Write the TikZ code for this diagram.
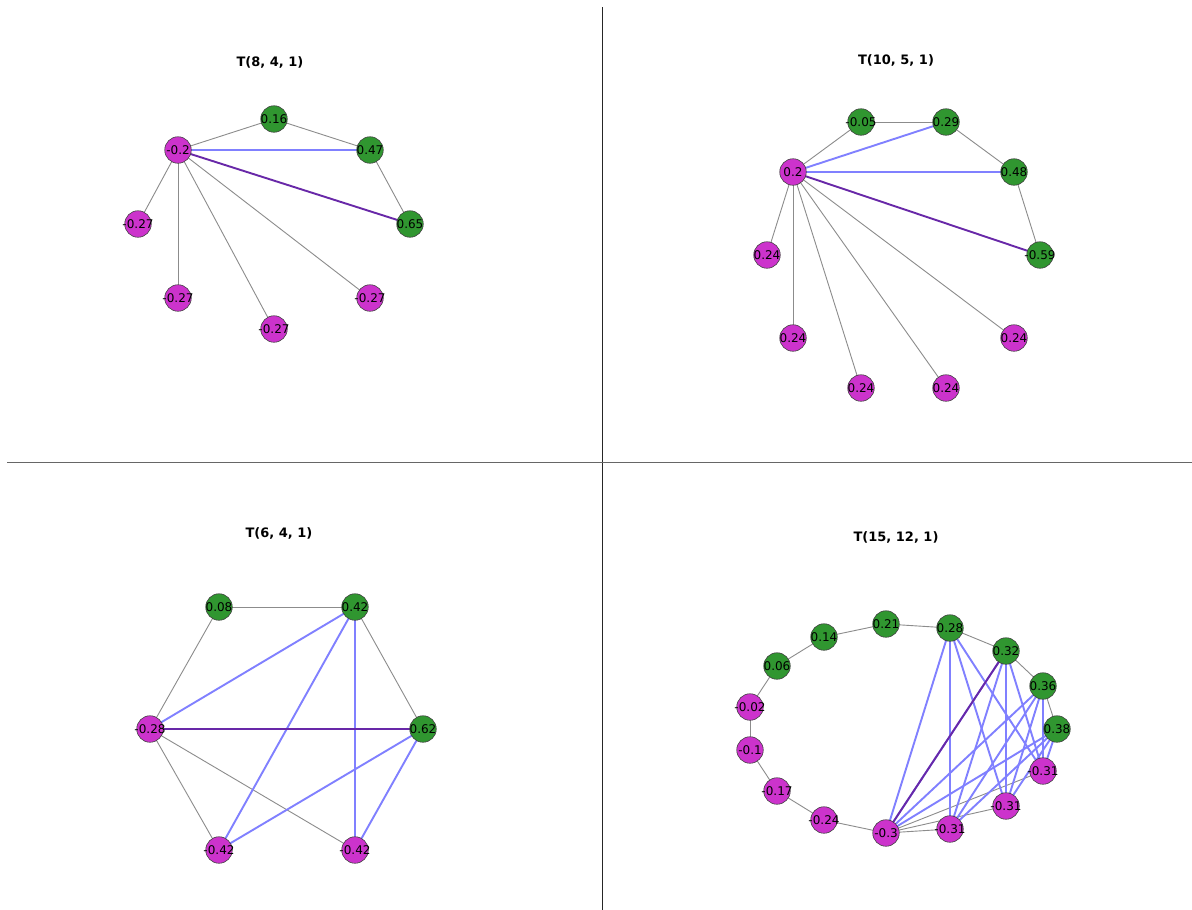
\documentclass[tikz,border=0pt]{standalone}
\usepackage{fontspec}
\setmainfont{DejaVu Sans}
\pgfdeclarelayer{bg}
\pgfdeclarelayer{back}
\pgfsetlayers{back,bg,main}
\definecolor{ngreen}{RGB}{48,150,48}
\definecolor{npink}{RGB}{204,51,204}
\definecolor{egray}{RGB}{140,140,140}
\definecolor{eblue}{RGB}{128,128,255}
\definecolor{epurp}{RGB}{104,40,168}
\tikzset{
  gnode/.style={circle,minimum size=26.5pt,inner sep=0pt,fill=ngreen,draw=black!75,line width=0.6pt,font=\fontsize{12}{12}\selectfont},
  pnode/.style={gnode,fill=npink},
  ge/.style={draw=egray,line width=0.9pt},
  be/.style={draw=eblue,line width=1.9pt},
  pe/.style={draw=epurp,line width=1.9pt},
  ttl/.style={font=\fontsize{13}{13}\selectfont\bfseries}
}
\newcommand\gnd[3]{\node[gnode] (#1) at (#2) {\makebox[0pt]{#3}};}
\newcommand\pnd[3]{\node[pnode] (#1) at (#2) {\makebox[0pt]{#3}};}
\begin{document}
\begin{tikzpicture}[x=1pt,y=-1pt]
\useasboundingbox (0,0) rectangle (1192,910);
\begin{pgfonlayer}{back}
\fill[white] (0,0) rectangle (1192,910);
\end{pgfonlayer}
\coordinate (vt) at (602,7);
\coordinate (vb) at (602,910);
\coordinate (hl) at (7,462);
\coordinate (hr) at (1192,462);
\draw[black!85,line width=0.8pt] (vt) -- (vb);
\draw[black!60,line width=0.8pt] (hl) -- (hr);

% ---------- Panel 1
\node[ttl] (t1) at (270,62) {T(8, 4, 1)};
\pnd{a0}{178,150}{-0.2}
\gnd{a1}{274,119}{0.16}
\gnd{a2}{370,150}{0.47}
\gnd{a3}{410,224}{0.65}
\pnd{a4}{370,298}{-0.27}
\pnd{a5}{274,329}{-0.27}
\pnd{a6}{178,298}{-0.27}
\pnd{a7}{138,224}{-0.27}
\begin{pgfonlayer}{bg}
\draw[ge] (a0.center) -- (a1.center);
\draw[ge] (a1.center) -- (a2.center);
\draw[ge] (a2.center) -- (a3.center);
\draw[ge] (a0.center) -- (a4.center);
\draw[ge] (a0.center) -- (a5.center);
\draw[ge] (a0.center) -- (a6.center);
\draw[ge] (a0.center) -- (a7.center);
\draw[be] (a0.center) -- (a2.center);
\draw[pe] (a0.center) -- (a3.center);
\end{pgfonlayer}

% ---------- Panel 2
\node[ttl] (t2) at (896,60) {T(10, 5, 1)};
\pnd{b0}{793,172}{0.2}
\gnd{b1}{861,122}{-0.05}
\gnd{b2}{946,122}{0.29}
\gnd{b3}{1014,172}{0.48}
\gnd{b4}{1040,255}{-0.59}
\pnd{b5}{1014,338}{0.24}
\pnd{b6}{946,388}{0.24}
\pnd{b7}{861,388}{0.24}
\pnd{b8}{793,338}{0.24}
\pnd{b9}{767,255}{0.24}
\begin{pgfonlayer}{bg}
\draw[ge] (b0.center) -- (b1.center);
\draw[ge] (b1.center) -- (b2.center);
\draw[ge] (b2.center) -- (b3.center);
\draw[ge] (b3.center) -- (b4.center);
\draw[ge] (b0.center) -- (b5.center);
\draw[ge] (b0.center) -- (b6.center);
\draw[ge] (b0.center) -- (b7.center);
\draw[ge] (b0.center) -- (b8.center);
\draw[ge] (b0.center) -- (b9.center);
\draw[be] (b0.center) -- (b2.center);
\draw[be] (b0.center) -- (b3.center);
\draw[pe] (b0.center) -- (b4.center);
\end{pgfonlayer}

% ---------- Panel 3
\node[ttl] (t3) at (279,533) {T(6, 4, 1)};
\gnd{c0}{219,607}{0.08}
\gnd{c1}{355,607}{0.42}
\gnd{c2}{423,729}{0.62}
\pnd{c3}{355,850}{-0.42}
\pnd{c4}{219,850}{-0.42}
\pnd{c5}{150,729}{-0.28}
\begin{pgfonlayer}{bg}
\draw[ge] (c0.center) -- (c1.center);
\draw[ge] (c0.center) -- (c5.center);
\draw[ge] (c1.center) -- (c2.center);
\draw[ge] (c5.center) -- (c4.center);
\draw[ge] (c5.center) -- (c3.center);
\draw[be] (c1.center) -- (c5.center);
\draw[be] (c1.center) -- (c4.center);
\draw[be] (c1.center) -- (c3.center);
\draw[be] (c2.center) -- (c4.center);
\draw[be] (c2.center) -- (c3.center);
\draw[pe] (c2.center) -- (c5.center);
\end{pgfonlayer}

% ---------- Panel 4
\node[ttl] (t4) at (896,537) {T(15, 12, 1)};
\gnd{d0}{886,624}{0.21}
\gnd{d1}{950,628}{0.28}
\gnd{d2}{1006,651}{0.32}
\gnd{d3}{1043,686}{0.36}
\gnd{d4}{1057,729}{0.38}
\pnd{d5}{1043,771}{-0.31}
\pnd{d6}{1006,806}{-0.31}
\pnd{d7}{950,829}{-0.31}
\pnd{d8}{886,833}{-0.3}
\pnd{d9}{824,820}{-0.24}
\pnd{d10}{777,791}{-0.17}
\pnd{d11}{750,750}{-0.1}
\pnd{d12}{750,707}{-0.02}
\gnd{d13}{777,666}{0.06}
\gnd{d14}{824,637}{0.14}
\begin{pgfonlayer}{bg}
\draw[ge] (d0.center) -- (d1.center);
\draw[ge] (d1.center) -- (d2.center);
\draw[ge] (d2.center) -- (d3.center);
\draw[ge] (d3.center) -- (d4.center);
\draw[ge] (d0.center) -- (d14.center);
\draw[ge] (d14.center) -- (d13.center);
\draw[ge] (d13.center) -- (d12.center);
\draw[ge] (d12.center) -- (d11.center);
\draw[ge] (d11.center) -- (d10.center);
\draw[ge] (d10.center) -- (d9.center);
\draw[ge] (d9.center) -- (d8.center);
\draw[ge] (d8.center) -- (d7.center);
\draw[ge] (d8.center) -- (d6.center);
\draw[ge] (d8.center) -- (d5.center);
\foreach \u in {d1,d2,d3,d4}{
  \foreach \v in {d5,d6,d7,d8}{
    \draw[be] (\u.center) -- (\v.center);
  }
}
\draw[pe] (d2.center) -- (d8.center);
\end{pgfonlayer}
\end{tikzpicture}
\end{document}
